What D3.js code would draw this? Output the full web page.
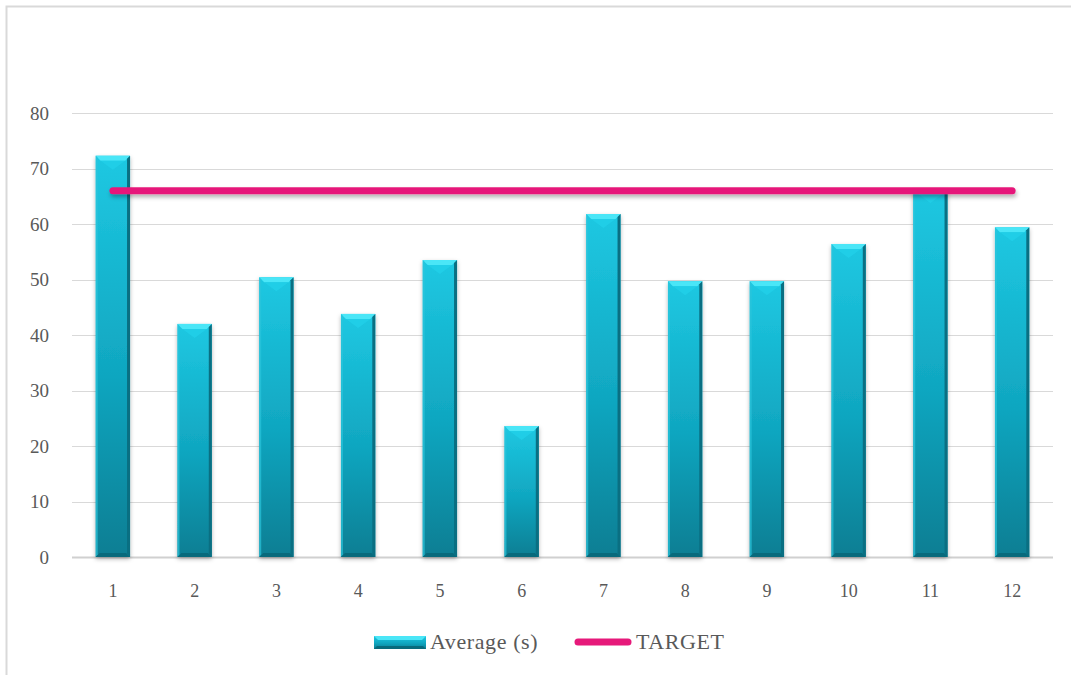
<!DOCTYPE html>
<html>
<head>
<meta charset="utf-8">
<script src="https://cdn.jsdelivr.net/npm/d3@7"></script>
<style>
  body { margin: 0; background: #fff; }
  svg text { font-family: "Liberation Serif", "DejaVu Serif", serif; fill: #595959; }
</style>
</head>
<body>
<div id="chart"></div>
<script>
// data
const months = ["1", "2", "3", "4", "5", "6", "7", "8", "9", "10", "11", "12"];
const average = [72.3, 42, 50.4, 43.8, 53.5, 23.6, 61.8, 49.7, 49.7, 56.4, 66.3, 59.4];
const target = [66, 66, 66, 66, 66, 66, 66, 66, 66, 66, 66, 66];
const yTicks = [0, 10, 20, 30, 40, 50, 60, 70, 80];

const width = 1071, height = 675;
const margin = {top: 113, right: 18, bottom: 118, left: 72};

const svg = d3.select("#chart")
    .append("svg")
    .attr("width", width)
    .attr("height", height);

const defs = svg.append("defs");

const grad = defs.append("linearGradient")
    .attr("id", "barGrad")
    .attr("x1", 0).attr("y1", 0).attr("x2", 0).attr("y2", 1);
grad.append("stop").attr("offset", "0%").attr("stop-color", "#1ec8e2");
grad.append("stop").attr("offset", "55%").attr("stop-color", "#10a6c0");
grad.append("stop").attr("offset", "100%").attr("stop-color", "#0a7e93");

const shadow = defs.append("filter")
    .attr("id", "shadow")
    .attr("x", "-30%").attr("y", "-30%").attr("width", "160%").attr("height", "160%");
shadow.append("feDropShadow")
    .attr("dx", 0).attr("dy", 2)
    .attr("stdDeviation", 2)
    .attr("flood-color", "#000")
    .attr("flood-opacity", 0.3);

// flat line has no bbox height, so give this one a fixed region
const lineShadow = defs.append("filter")
    .attr("id", "lineShadow")
    .attr("filterUnits", "userSpaceOnUse")
    .attr("x", 0).attr("y", 0).attr("width", width).attr("height", height);
lineShadow.append("feDropShadow")
    .attr("dx", 1).attr("dy", 3)
    .attr("stdDeviation", 2)
    .attr("flood-color", "#000")
    .attr("flood-opacity", 0.3);

// chart area border
svg.append("rect")
    .attr("x", 6.5).attr("y", 6.5)
    .attr("width", width + 20).attr("height", height + 20)
    .attr("fill", "none")
    .attr("stroke", "#d9d9d9")
    .attr("stroke-width", 2);

const x = d3.scaleBand()
    .domain(months)
    .range([margin.left, width - margin.right])
    .paddingInner(0.58)
    .paddingOuter(0.29);

const y = d3.scaleLinear()
    .domain([0, 80])
    .range([height - margin.bottom, margin.top]);

// gridlines
svg.append("g")
    .selectAll("line")
    .data(yTicks)
    .enter().append("line")
    .attr("x1", margin.left)
    .attr("x2", width - margin.right)
    .attr("y1", d => Math.round(y(d)) + 0.5)
    .attr("y2", d => Math.round(y(d)) + 0.5)
    .attr("stroke", d => d === 0 ? "#d0d0d0" : "#d9d9d9")
    .attr("stroke-width", d => d === 0 ? 2 : 1);

// y labels
svg.append("g")
    .selectAll("text")
    .data(yTicks)
    .enter().append("text")
    .attr("x", 49)
    .attr("y", d => y(d))
    .attr("dy", "0.35em")
    .attr("text-anchor", "end")
    .style("font-size", "19px")
    .text(d => d);

// x labels
svg.append("g")
    .selectAll("text")
    .data(months)
    .enter().append("text")
    .attr("x", d => x(d) + x.bandwidth() / 2)
    .attr("y", 597)
    .attr("text-anchor", "middle")
    .style("font-size", "18px")
    .text(d => d);

// bars
const bw = x.bandwidth();
const bars = svg.append("g")
    .selectAll("g")
    .data(average.map((v, i) => ({m: months[i], v: v})))
    .enter().append("g")
    .attr("transform", d => "translate(" + x(d.m) + "," + y(d.v) + ")");

bars.append("rect")
    .attr("width", bw)
    .attr("height", d => y(0) - y(d.v))
    .attr("fill", "url(#barGrad)")
    .attr("filter", "url(#shadow)");

// bevel: top
bars.append("path")
    .attr("d", "M0,0 L" + bw + ",0 L" + (bw - 5) + ",5 L5,5 Z")
    .attr("fill", "#4ae6f7");
bars.append("path")
    .attr("d", "M5,5 L" + (bw - 5) + ",5 L" + (bw / 2) + ",14 Z")
    .attr("fill", "#22d0e8")
    .attr("opacity", 0.8);
// bevel: right edge
bars.append("path")
    .attr("d", d => {
        const h = y(0) - y(d.v);
        return "M" + bw + ",0 L" + bw + "," + h + " L" + (bw - 3) + "," + (h - 3) + " L" + (bw - 3) + ",3 Z";
    })
    .attr("fill", "#0a6f82");
// bevel: left edge
bars.append("path")
    .attr("d", d => {
        const h = y(0) - y(d.v);
        return "M0,0 L0," + h + " L2," + (h - 2) + " L2,2 Z";
    })
    .attr("fill", "#2bc5dc")
    .attr("opacity", 0.7);
// bevel: bottom
bars.append("path")
    .attr("d", d => {
        const h = y(0) - y(d.v);
        return "M0," + h + " L" + bw + "," + h + " L" + (bw - 4) + "," + (h - 4) + " L4," + (h - 4) + " Z";
    })
    .attr("fill", "#086a7c");

// target line
const line = d3.line()
    .x((d, i) => x(months[i]) + bw / 2)
    .y(d => y(d));

svg.append("path")
    .datum(target)
    .attr("d", line)
    .attr("fill", "none")
    .attr("stroke", "#e6197a")
    .attr("stroke-width", 7)
    .attr("stroke-linecap", "round")
    .attr("filter", "url(#lineShadow)");

// legend
const legend = svg.append("g");
legend.append("rect")
    .attr("x", 374).attr("y", 636)
    .attr("width", 52).attr("height", 13)
    .attr("fill", "url(#barGrad)");
legend.append("path")
    .attr("d", "M374,636 L426,636 L422,640 L378,640 Z")
    .attr("fill", "#4ae6f7");
legend.append("path")
    .attr("d", "M374,649 L426,649 L423,646 L377,646 Z")
    .attr("fill", "#086a7c");
legend.append("text")
    .attr("x", 430).attr("y", 649)
    .style("font-size", "22px")
    .style("letter-spacing", "0.6px")
    .text("Average (s)");
legend.append("line")
    .attr("x1", 578).attr("x2", 628)
    .attr("y1", 642).attr("y2", 642)
    .attr("stroke", "#e6197a")
    .attr("stroke-width", 7)
    .attr("stroke-linecap", "round");
legend.append("text")
    .attr("x", 636).attr("y", 649)
    .style("font-size", "22px")
    .style("letter-spacing", "0.6px")
    .text("TARGET");
</script>
</body>
</html>
